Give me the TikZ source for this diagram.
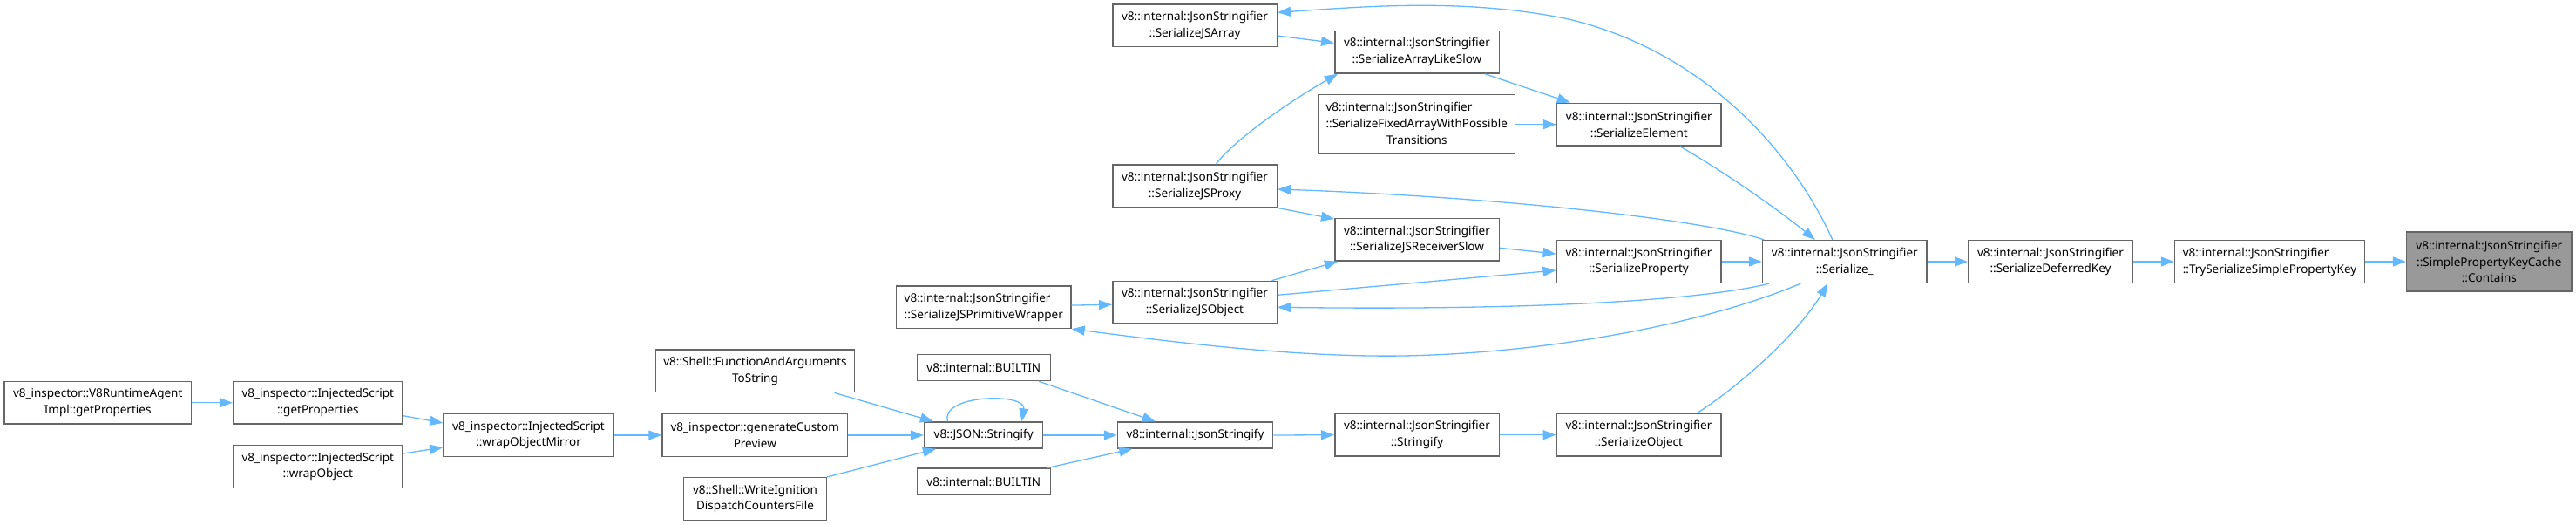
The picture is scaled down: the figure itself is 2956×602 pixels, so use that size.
\documentclass[tikz,border=0pt]{standalone}
\usepackage{fontspec}
\setmainfont{Noto Sans}
\usetikzlibrary{arrows.meta}
\definecolor{edgeblue}{HTML}{63B8FF}
\definecolor{boxgray}{HTML}{666666}
\definecolor{rootfill}{HTML}{999999}
\begin{document}
\begin{tikzpicture}[x=1pt, y=-1pt,
  box/.style={draw=boxgray, fill=white, line width=1.5pt, inner sep=0pt, align=center,
    font=\fontsize{13.5}{18.7}\selectfont, minimum height=48.7pt},
  stdbox/.style={box, minimum width=188.5pt},
  onebox/.style={box, minimum height=30pt},
  edge/.style={draw=edgeblue, line width=1.3pt, -{Triangle[length=15pt,width=11pt]}}]
\useasboundingbox (0,0) rectangle (2956,602);

% left part
\node[box, minimum width=214.8pt] (rta) at (112.2,461.7) {v8\_inspector::V8RuntimeAgent\\Impl::getProperties};
\node[box, minimum width=194.4pt] (isgp) at (364.8,461.7) {v8\_inspector::InjectedScript\\::getProperties};
\node[box, minimum width=194.4pt] (iswo) at (364.8,535) {v8\_inspector::InjectedScript\\::wrapObject};
\node[box, minimum width=195pt] (iswom) at (606.5,499) {v8\_inspector::InjectedScript\\::wrapObjectMirror};
\node[box, minimum width=212.6pt] (gcp) at (866.3,499) {v8\_inspector::generateCustom\\Preview};
\node[box, minimum width=227.7pt] (fats) at (866.5,425.3) {v8::Shell::FunctionAndArguments\\ToString};
\node[box, minimum width=164pt] (wid) at (866.5,572) {v8::Shell::WriteIgnition\\DispatchCountersFile};
\node[onebox, minimum width=136pt] (jsons) at (1128.7,499) {v8::JSON::Stringify};
\node[onebox, minimum width=153pt] (bt1) at (1128.8,421.5) {v8::internal::BUILTIN};
\node[onebox, minimum width=153pt] (bt2) at (1128.8,552.2) {v8::internal::BUILTIN};
\node[onebox, minimum width=178pt] (jsfy) at (1371.5,499) {v8::internal::JsonStringify};
\node[stdbox] (strf) at (1626,498.7) {v8::internal::JsonStringifier\\::Stringify};
\node[stdbox] (sobj) at (1880.5,498.7) {v8::internal::JsonStringifier\\::SerializeObject};

% upper middle
\node[stdbox] (sjsa) at (1371,29.3) {v8::internal::JsonStringifier\\::SerializeJSArray};
\node[stdbox] (sals) at (1626,59.7) {v8::internal::JsonStringifier\\::SerializeArrayLikeSlow};
\node[box, minimum width=225.6pt, minimum height=68pt] (sfa) at (1625.8,142.7)
  {\begin{tabular}{@{}l@{}}v8::internal::JsonStringifier\\::SerializeFixedArrayWithPossible\\\multicolumn{1}{@{}c@{}}{Transitions}\end{tabular}};
\node[stdbox] (sel) at (1880.8,142.7) {v8::internal::JsonStringifier\\::SerializeElement};
\node[stdbox] (sjsp) at (1371,213.3) {v8::internal::JsonStringifier\\::SerializeJSProxy};
\node[stdbox] (srs) at (1626,274.7) {v8::internal::JsonStringifier\\::SerializeJSReceiverSlow};
\node[stdbox] (sjso) at (1371,346.8) {v8::internal::JsonStringifier\\::SerializeJSObject};
\node[box, minimum width=200.3pt] (spw) at (1128.8,352.1)
  {\begin{tabular}{@{}l@{}}v8::internal::JsonStringifier\\::SerializeJSPrimitiveWrapper\end{tabular}};
\node[stdbox] (sprop) at (1880.5,300) {v8::internal::JsonStringifier\\::SerializeProperty};

% right part
\node[stdbox] (ser) at (2116.8,300) {v8::internal::JsonStringifier\\::Serialize\_};
\node[stdbox] (sdk) at (2353,300) {v8::internal::JsonStringifier\\::SerializeDeferredKey};
\node[box, minimum width=218pt] (tsk) at (2604.5,300)
  {\begin{tabular}{@{}l@{}}v8::internal::JsonStringifier\\::TrySerializeSimplePropertyKey\end{tabular}};
\node[box, fill=rootfill, minimum width=189.4pt, minimum height=68pt] (cont) at (2856.3,300)
  {v8::internal::JsonStringifier\\::SimplePropertyKeyCache\\::Contains};

\coordinate (jsaVia) at (1800,22);
\coordinate (pwVia) at (1610,408);

% edges
\draw[edge] (rta.east) -- (isgp.west);
\draw[edge] ([yshift=-15pt]isgp.east) -- ([yshift=14pt]iswom.west);
\draw[edge] ([yshift=15pt]iswo.east) -- ([yshift=-14pt]iswom.west);
\draw[edge] (iswom.east) -- (gcp.west);
\draw[edge] (gcp.east) -- (jsons.west);
\draw[edge] ([xshift=-23.6pt]fats.south east) -- ([xshift=11pt]jsons.north west);
\draw[edge] (wid.north east) -- ([xshift=14pt]jsons.south west);
\draw[edge] ([xshift=27.6pt]jsons.north west) .. controls (1078,452) and (1178,450) .. ([xshift=-25pt]jsons.north east);
\draw[edge] (jsons.east) -- (jsfy.west);
\draw[edge] ([xshift=-14pt]bt1.south east) -- ([xshift=44pt]jsfy.north west);
\draw[edge] ([xshift=-4pt]bt2.north east) -- ([xshift=17.5pt]jsfy.south west);
\draw[edge] (jsfy.east) -- (strf.west);
\draw[edge] (strf.east) -- (sobj.west);
\draw[edge] ([xshift=-28pt]sobj.north east) .. controls (2000,440) and (2065,380) .. ([xshift=75.5pt]ser.south west);
\draw[edge] (sprop.east) -- (ser.west);
\draw[edge] ([xshift=142pt]sel.south west) .. controls (1980,198) and (2040,240) .. ([xshift=61pt]ser.north west);
\draw[edge] ([xshift=81pt]ser.north west) .. controls (2060,180) and (1960,60) .. (jsaVia) .. controls (1680,-3) and (1560,8) .. ([yshift=15pt]sjsa.east);
\draw[edge] ([xshift=2.5pt]ser.north west) .. controls (1950,250) and (1700,225) .. ([yshift=-3.7pt]sjsp.east);
\draw[edge] ([xshift=8.5pt]ser.south west) .. controls (1950,345) and (1750,356) .. ([yshift=-5.5pt]sjso.east);
\draw[edge] ([xshift=44.5pt]ser.south west) .. controls (1960,370) and (1780,405) .. (pwVia) .. controls (1480,410) and (1330,390) .. (spw.south east);
\draw[edge] ([yshift=-11.7pt]sjsa.east) -- ([yshift=10.4pt]sals.west);
\draw[edge] ([xshift=24.4pt]sjsp.north) .. controls (1412,165) and (1470,122) .. ([xshift=4pt]sals.south west);
\draw[edge] ([xshift=-17pt]sals.south east) -- ([xshift=16pt]sel.north west);
\draw[edge] (sfa.east) -- (sel.west);
\draw[edge] (sjsp.south east) -- ([yshift=-1.5pt]srs.north west);
\draw[edge] ([xshift=-6.6pt]sjso.north east) -- ([xshift=4pt]srs.south west);
\draw[edge] ([yshift=-9.6pt]srs.east) -- ([yshift=9pt]sprop.west);
\draw[edge] ([yshift=8.5pt]sjso.east) -- ([yshift=-10pt]sprop.west);
\draw[edge] ([yshift=2pt]spw.east) -- ([yshift=-2.5pt]sjso.west);
\draw[edge] (ser.east) -- (sdk.west);
\draw[edge] (sdk.east) -- (tsk.west);
\draw[edge] (tsk.east) -- (cont.west);
\end{tikzpicture}
\end{document}
